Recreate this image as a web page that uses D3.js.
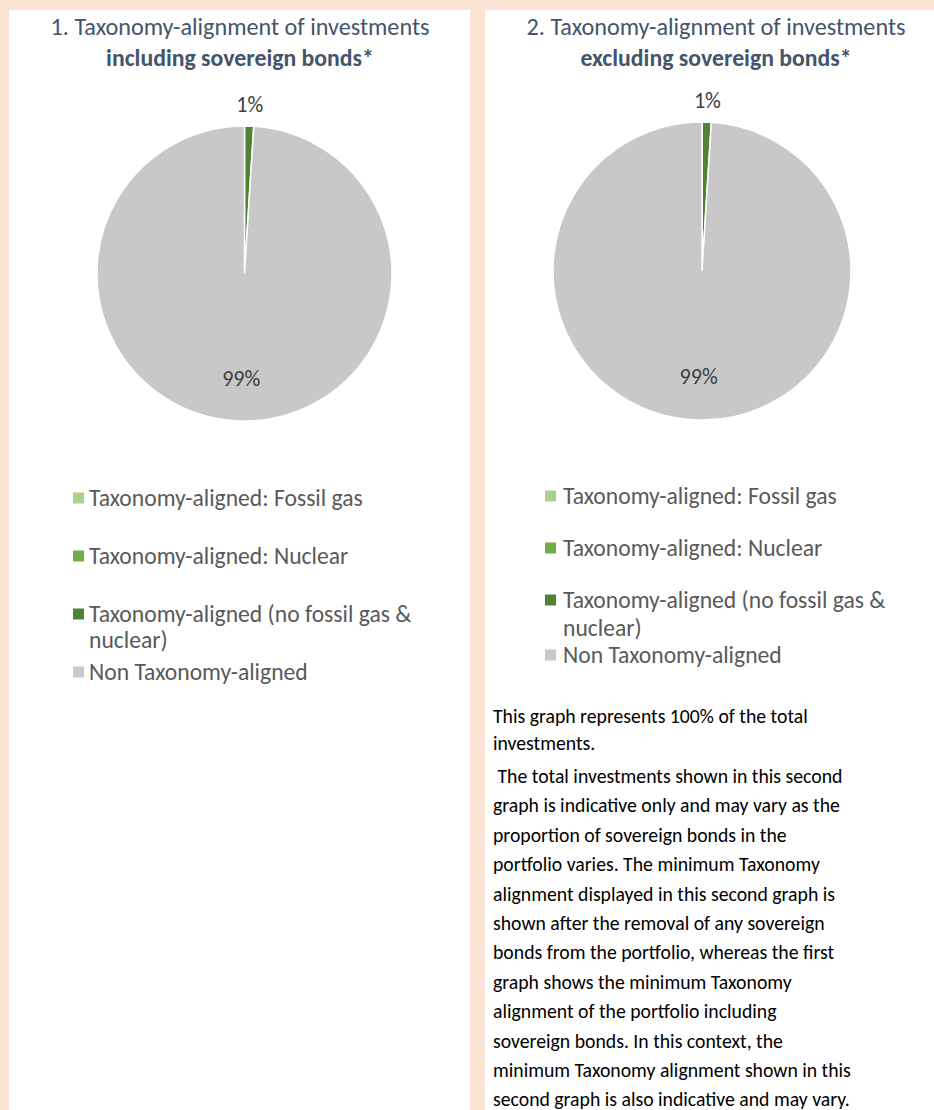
<!DOCTYPE html>
<html>
<head>
<meta charset="utf-8">
<script src="https://cdn.jsdelivr.net/npm/d3@7"></script>
<style>
  body { margin: 0; background: #fbe4d6; }
  svg { display: block; font-family: Carlito, Lato, "Open Sans", sans-serif; }
  text { white-space: pre; }
</style>
</head>
<body>
<div class="canvas"></div>
<script>
// Data
const categories = [
  'Taxonomy-aligned: Fossil gas',
  'Taxonomy-aligned: Nuclear',
  'Taxonomy-aligned (no fossil gas & nuclear)',
  'Non Taxonomy-aligned'
];
const inclSovereign = [0, 0, 1, 99];
const exclSovereign = [0, 0, 1, 99];
const titlesLine1 = ['1. Taxonomy-alignment of investments', '2. Taxonomy-alignment of investments'];
const titlesLine2 = ['including sovereign bonds*', 'excluding sovereign bonds*'];
const noteFirst = ['This graph represents 100% of the total', 'investments.'];
const noteSecond = [
  ' The total investments shown in this second',
  'graph is indicative only and may vary as the',
  'proportion of sovereign bonds in the',
  'portfolio varies. The minimum Taxonomy',
  'alignment displayed in this second graph is',
  'shown after the removal of any sovereign',
  'bonds from the portfolio, whereas the first',
  'graph shows the minimum Taxonomy',
  'alignment of the portfolio including',
  'sovereign bonds. In this context, the',
  'minimum Taxonomy alignment shown in this',
  'second graph is also indicative and may vary.'
];

const width = 934, height = 1110;

const svg = d3.select('.canvas').append('svg')
  .attr('width', width).attr('height', height);

svg.append('rect').attr('width', width).attr('height', height).attr('fill', '#fbe4d6');

// font size fitting: scale a base size so a sample string hits a target width
const fitSize = (sample, target, weight) => {
  const t = svg.append('text').attr('font-size', 20).attr('font-weight', weight || 400).text(sample);
  const w = t.node().getComputedTextLength();
  t.remove();
  return 20 * target / w;
};
const titleSize = fitSize(titlesLine1[0], 379);
const titleBoldSize = fitSize(titlesLine2[0], 268, 700);
const legendSize = fitSize(categories[0], 274);
const noteSize = fitSize(noteFirst[0], 315);
const labelSize = fitSize('1%', 27);

const color = d3.scaleOrdinal().domain(categories)
  .range(['#a9d18e', '#70ad47', '#548235', '#c8c8c8']);

// panel layouts
const panels = [
  { x: 9, w: 461, titleX: 240, cx: 244.5, cy: 273.5, r: 147.5, values: inclSovereign,
    swatchX: 73, textX: 89, legendY: [498, 556, 614, 672], wrap: 26 },
  { x: 485, w: 449, titleX: 716, cx: 702, cy: 271, r: 149, values: exclSovereign,
    swatchX: 545, textX: 563, legendY: [496, 548, 600, 655], wrap: 28 }
];

const pie = d3.pie().sort(null).value((d) => d.value);

panels.forEach((p, k) => {
  svg.append('rect').attr('x', p.x).attr('y', 10).attr('width', p.w).attr('height', height - 10)
    .attr('fill', '#ffffff');

  // titles
  svg.append('text').attr('x', p.titleX).attr('y', 27).attr('dy', '0.35em')
    .attr('text-anchor', 'middle').attr('fill', '#44546a').attr('font-size', titleSize)
    .text(titlesLine1[k]);
  svg.append('text').attr('x', p.titleX).attr('y', 58).attr('dy', '0.35em')
    .attr('text-anchor', 'middle').attr('fill', '#44546a').attr('font-weight', 700)
    .attr('font-size', titleBoldSize).text(titlesLine2[k]);

  const data = categories.map((c, i) => ({ name: c, value: p.values[i] }));
  const arcs = pie(data);
  const arcPath = d3.arc().innerRadius(0).outerRadius(p.r);
  const outerLabel = d3.arc().innerRadius(p.r + 22).outerRadius(p.r + 22);
  const innerLabel = d3.arc().innerRadius(p.r * 0.71).outerRadius(p.r * 0.71);

  const graph = svg.append('g').attr('transform', `translate(${p.cx},${p.cy})`);
  graph.selectAll('path').data(arcs.filter((d) => d.data.value > 0)).enter().append('path')
    .attr('d', arcPath)
    .attr('fill', (d) => color(d.data.name))
    .attr('stroke', '#fff').attr('stroke-width', 1.5);

  graph.selectAll('text').data(arcs.filter((d) => d.data.value > 0)).enter().append('text')
    .attr('transform', (d) => {
      const c = d.data.value < 5 ? outerLabel.centroid(d) : innerLabel.centroid(d);
      return `translate(${c})`;
    })
    .attr('dy', '0.35em').attr('text-anchor', 'middle')
    .attr('fill', '#404040').attr('font-size', labelSize)
    .text((d) => d.data.value + '%');

  // legend
  const legend = svg.append('g');
  categories.forEach((c, i) => {
    const y = p.legendY[i];
    legend.append('rect').attr('x', p.swatchX).attr('y', y - 5.5).attr('width', 11).attr('height', 11)
      .attr('fill', color(c));
    const lines = c.split(/(?<=&) /);
    lines.forEach((line, j) => {
      legend.append('text').attr('x', p.textX).attr('y', y + j * p.wrap).attr('dy', '0.35em')
        .attr('fill', '#595959').attr('font-size', legendSize).text(line);
    });
  });
});

// note under second chart
const note = svg.append('g').attr('fill', '#000').attr('font-size', noteSize);
noteFirst.forEach((line, i) => {
  note.append('text').attr('x', 493).attr('y', 716 + i * 27).attr('dy', '0.35em').text(line);
});
noteSecond.forEach((line, i) => {
  note.append('text').attr('x', 493).attr('y', 776 + i * 29.4).attr('dy', '0.35em').text(line);
});
</script>
</body>
</html>
